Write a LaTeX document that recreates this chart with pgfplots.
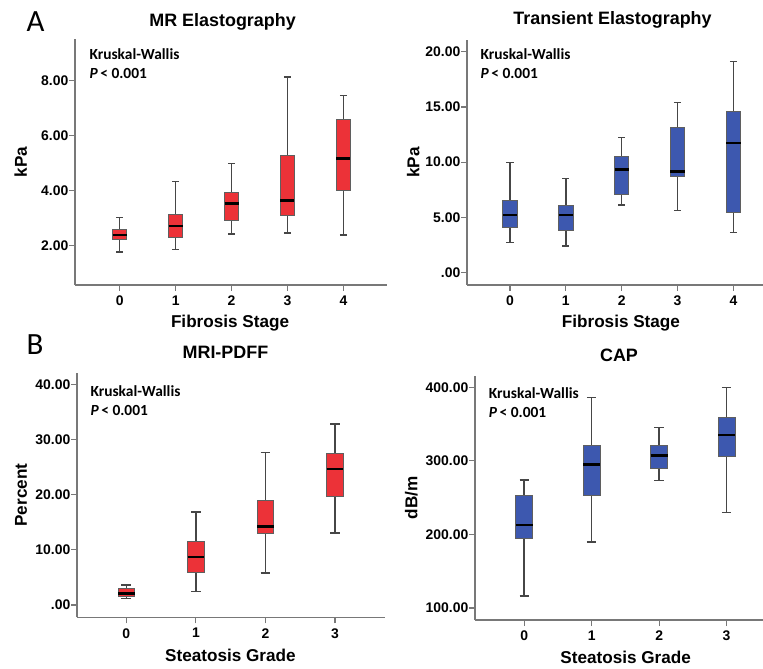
\documentclass[border=0pt]{standalone}
\usepackage{fontspec}
\setmainfont{Liberation Sans}
\newfontfamily\calibri{Carlito}
\usepackage{pgfplots}
\pgfplotsset{compat=1.18}

\definecolor{boxred}{RGB}{236,50,56}
\definecolor{boxblue}{RGB}{61,88,175}
\definecolor{axgray}{RGB}{120,120,120}
\definecolor{whiskgray}{RGB}{70,70,70}
\definecolor{edgegray}{RGB}{95,95,95}

\newcommand\titlefont{\fontsize{18}{21}\selectfont\bfseries}
\newcommand\labelfont{\fontsize{17.2}{20}\selectfont\bfseries}
\newcommand\tickfont{\fontsize{14}{16}\selectfont\bfseries}
\newcommand\kwfont{\calibri\fontsize{15.5}{18}\selectfont\bfseries}

% one box: position, half box width, half cap width, lower whisker, lower quartile, median, upper quartile, upper whisker, fill
\newcommand\drawbox[9]{%
  \pgfmathsetmacro\xa{#1-#2}\pgfmathsetmacro\xb{#1+#2}%
  \pgfmathsetmacro\ca{#1-#3}\pgfmathsetmacro\cb{#1+#3}%
  \addplot[whiskgray, line width=1.5bp] coordinates {(#1,#4) (#1,#5)};
  \addplot[whiskgray, line width=1.5bp] coordinates {(#1,#7) (#1,#8)};
  \addplot[whiskgray, line width=1.5bp] coordinates {(\ca,#4) (\cb,#4)};
  \addplot[whiskgray, line width=1.5bp] coordinates {(\ca,#8) (\cb,#8)};
  \addplot[fill=#9, draw=edgegray, line width=0.9bp] coordinates {(\xa,#5) (\xb,#5) (\xb,#7) (\xa,#7)} -- cycle;
  \addplot[black, line width=2.4bp] coordinates {(\xa,#6) (\xb,#6)};
}

\pgfplotsset{
  panel/.style={
    scale only axis,
    anchor=south west,
    axis x line*=bottom,
    axis y line*=left,
    axis line style={axgray, line width=1.5bp},
    tick style={axgray, line width=1.2bp},
    major tick length=6bp,
    tick align=outside,
    title style={font=\titlefont, anchor=base},
    xlabel style={font=\labelfont, anchor=base},
    ylabel style={font=\labelfont, anchor=base},
    tick label style={font=\tickfont},
    yticklabel style={inner sep=0pt, xshift=-0.5bp},
    xticklabel style={yshift=-1.5bp},
    clip=false,
  },
}

\begin{document}
\begin{tikzpicture}
\useasboundingbox (0,0) rectangle (763bp,669bp);

\node[anchor=base west, font=\calibri\fontsize{31}{31}\selectfont] at (23bp,637bp) {A};
\node[anchor=base west, font=\calibri\fontsize{31}{31}\selectfont] at (23bp,314bp) {B};

% MR Elastography
\begin{axis}[panel,
  at={(75bp,384bp)}, width=312bp, height=246bp,
  xmin=-0.8, xmax=4.78, ymin=0.58, ymax=9.5,
  xtick={0,1,2,3,4}, xticklabels={\textbf{0},\textbf{1},\textbf{2},\textbf{3},\textbf{4}},
  ytick={2,4,6,8}, yticklabels={\textbf{2.00},\textbf{4.00},\textbf{6.00},\textbf{8.00}},
  title={MR Elastography}, title style={at={(0.473,1)}, yshift=6.5bp},
  xlabel={Fibrosis Stage}, xlabel style={at={(0.497,0)}, yshift=-43bp},
  ylabel={kPa}, ylabel style={at={(-0.154,0.5)}},
]
\drawbox{0}{0.125}{0.063}{1.77}{2.23}{2.40}{2.61}{3.02}{boxred}
\drawbox{1}{0.125}{0.063}{1.86}{2.29}{2.72}{3.14}{4.34}{boxred}
\drawbox{2}{0.125}{0.063}{2.42}{2.92}{3.53}{3.95}{4.98}{boxred}
\drawbox{3}{0.125}{0.063}{2.47}{3.11}{3.65}{5.28}{8.13}{boxred}
\drawbox{4}{0.125}{0.063}{2.39}{4.01}{5.17}{6.60}{7.45}{boxred}
\node[anchor=base west, font=\kwfont] at (rel axis cs:0,1) [xshift=11bp, yshift=-21bp] {Kruskal-Wallis};
\node[anchor=base west, font=\kwfont] at (rel axis cs:0,1) [xshift=11bp, yshift=-40bp] {\textit{P}\,< 0.001};
\end{axis}

% Transient Elastography
\begin{axis}[panel,
  at={(467bp,384bp)}, width=296bp, height=245bp,
  xmin=-0.77, xmax=4.53, ymin=-1.12, ymax=21.06,
  xtick={0,1,2,3,4}, xticklabels={\textbf{0},\textbf{1},\textbf{2},\textbf{3},\textbf{4}},
  ytick={0,5,10,15,20}, yticklabels={\textbf{.00},\textbf{5.00},\textbf{10.00},\textbf{15.00},\textbf{20.00}},
  title={Transient Elastography}, title style={at={(0.4916,1)}, yshift=10bp},
  xlabel={Fibrosis Stage}, xlabel style={at={(0.52,0)}, yshift=-43bp},
  ylabel={kPa}, ylabel style={at={(-0.161,0.5)}},
]
\drawbox{0}{0.128}{0.065}{2.71}{4.13}{5.22}{6.49}{9.98}{boxblue}
\drawbox{1}{0.128}{0.065}{2.41}{3.83}{5.22}{6.09}{8.51}{boxblue}
\drawbox{2}{0.128}{0.065}{6.12}{7.12}{9.35}{10.50}{12.22}{boxblue}
\drawbox{3}{0.128}{0.065}{5.61}{8.69}{9.17}{13.12}{15.41}{boxblue}
\drawbox{4}{0.128}{0.065}{3.62}{5.46}{11.76}{14.57}{19.10}{boxblue}
\node[anchor=base west, font=\kwfont] at (rel axis cs:0,1) [xshift=10bp, yshift=-20bp] {Kruskal-Wallis};
\node[anchor=base west, font=\kwfont] at (rel axis cs:0,1) [xshift=10bp, yshift=-38.3bp] {\textit{P}\,< 0.001};
\end{axis}

% MRI-PDFF
\begin{axis}[panel,
  at={(77bp,51.7bp)}, width=308bp, height=244.6bp,
  xmin=-0.71, xmax=3.72, ymin=-2.24, ymax=42.1,
  xtick={0,1,2,3}, xticklabels={\textbf{0},\textbf{1},\textbf{2},\textbf{3}},
  ytick={0,10,20,30,40}, yticklabels={\textbf{.00},\textbf{10.00},\textbf{20.00},\textbf{30.00},\textbf{40.00}},
  title={MRI-PDFF}, title style={at={(0.482,1)}, yshift=8.7bp},
  xlabel={Steatosis Grade}, xlabel style={at={(0.498,0)}, yshift=-44.4bp},
  ylabel={Percent}, ylabel style={at={(-0.163,0.5)}},
]
\drawbox{0}{0.12}{0.07}{1.21}{1.45}{2.11}{2.90}{3.63}{boxred}
\drawbox{1}{0.12}{0.07}{2.42}{5.86}{8.70}{11.60}{16.86}{boxred}
\drawbox{2}{0.12}{0.07}{5.80}{12.87}{14.20}{18.91}{27.61}{boxred}
\drawbox{3}{0.12}{0.07}{13.05}{19.58}{24.59}{27.55}{32.81}{boxred}
\node[anchor=base west, font=\kwfont] at (rel axis cs:0,1) [xshift=10bp, yshift=-24bp] {Kruskal-Wallis};
\node[anchor=base west, font=\kwfont] at (rel axis cs:0,1) [xshift=10bp, yshift=-43.3bp] {\textit{P}\,< 0.001};
\end{axis}

% CAP
\begin{axis}[panel,
  at={(475bp,49bp)}, width=288bp, height=244bp,
  xmin=-0.73, xmax=3.54, ymin=83.7, ymax=415.4,
  xtick={0,1,2,3}, xticklabels={\textbf{0},\textbf{1},\textbf{2},\textbf{3}},
  ytick={100,200,300,400}, yticklabels={\textbf{100.00},\textbf{200.00},\textbf{300.00},\textbf{400.00}},
  title={CAP}, title style={at={(0.5,1)}, yshift=8.7bp},
  xlabel={Steatosis Grade}, xlabel style={at={(0.523,0)}, yshift=-43.3bp},
  ylabel={dB/m}, ylabel style={at={(-0.2,0.5)}},
]
\drawbox{0}{0.125}{0.07}{116.4}{194.7}{212.9}{252.7}{274.0}{boxblue}
\drawbox{1}{0.125}{0.07}{189.8}{253.2}{294.9}{320.7}{386.0}{boxblue}
\drawbox{2}{0.125}{0.07}{273.1}{289.9}{307.1}{321.2}{345.2}{boxblue}
\drawbox{3}{0.125}{0.07}{229.6}{306.2}{335.2}{358.8}{400.0}{boxblue}
\node[anchor=base west, font=\kwfont] at (rel axis cs:0,1) [xshift=10.3bp, yshift=-22.3bp] {Kruskal-Wallis};
\node[anchor=base west, font=\kwfont] at (rel axis cs:0,1) [xshift=10.3bp, yshift=-41.3bp] {\textit{P}\,< 0.001};
\end{axis}
\end{tikzpicture}
\end{document}
